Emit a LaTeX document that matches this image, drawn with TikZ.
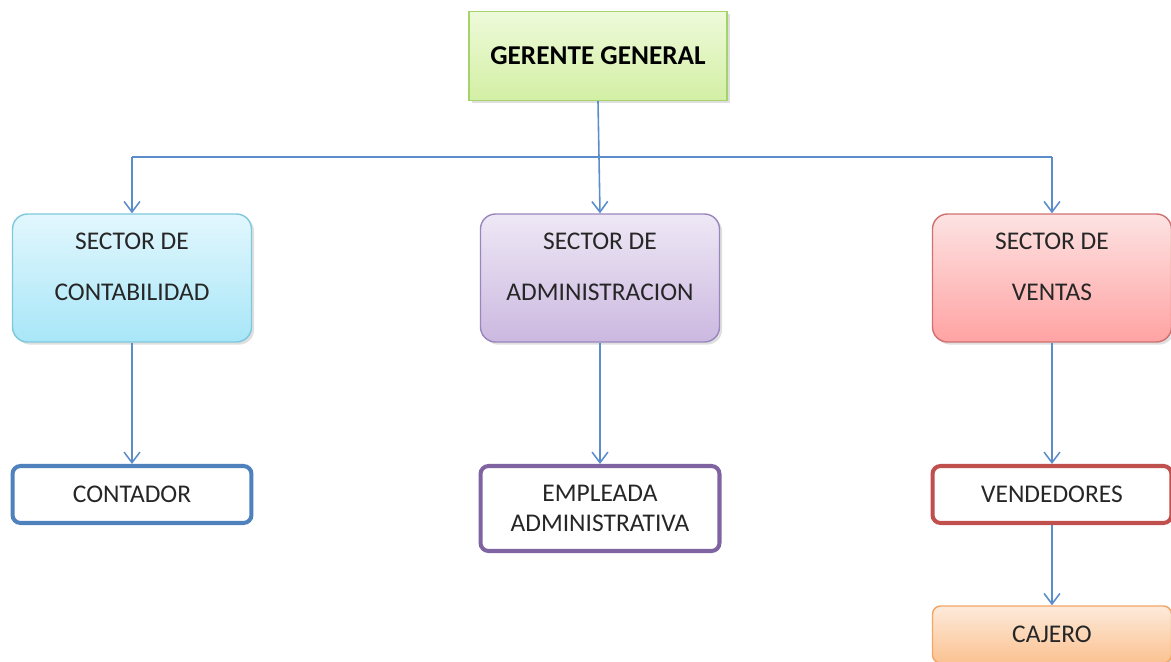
\documentclass[tikz,border=0pt]{standalone}
\usepackage{fontspec}
\setmainfont{Carlito}
\usetikzlibrary{arrows.meta,shadows}

\definecolor{linea}{HTML}{5B8DCB}
\definecolor{texto}{HTML}{262626}
\definecolor{verdeA}{HTML}{EEFADA}\definecolor{verdeB}{HTML}{D3EFA4}\definecolor{verdeC}{HTML}{A3D36A}
\definecolor{celesteA}{HTML}{E2F7FD}\definecolor{celesteB}{HTML}{A8E6F8}\definecolor{celesteC}{HTML}{7EC8DC}
\definecolor{lilaA}{HTML}{EEE8F5}\definecolor{lilaB}{HTML}{CBB8E0}\definecolor{lilaC}{HTML}{9A86BF}
\definecolor{rosaA}{HTML}{FDE3E3}\definecolor{rosaB}{HTML}{FFA3A3}\definecolor{rosaC}{HTML}{D07070}
\definecolor{naranjaA}{HTML}{FDEADB}\definecolor{naranjaB}{HTML}{FBC290}\definecolor{naranjaC}{HTML}{F2A566}
\definecolor{azul}{HTML}{4F81BD}\definecolor{morado}{HTML}{8064A2}\definecolor{rojo}{HTML}{C0504D}

\begin{document}
\begin{tikzpicture}[x=0.02cm,y=-0.02cm,
  font=\fontsize{14.5}{17}\selectfont, text=texto,
  sombra/.style={drop shadow={opacity=0.25,shadow xshift=1.5pt,shadow yshift=-1.5pt}},
  sector/.style={draw,line width=0.8pt,rounded corners=0.3cm,minimum width=4.78cm,
    minimum height=2.56cm,align=center,inner ysep=0.16cm,text height=1.58cm,text depth=0.66cm,sombra},
  puesto/.style={draw,fill=white,line width=2.3pt,rounded corners=0.16cm,
    minimum width=4.78cm,minimum height=1.14cm,align=center},
  link/.style={draw=linea,line width=0.9pt},
  flecha/.style={link,-{Straight Barb[length=6pt,width=9pt]}}]
\useasboundingbox (0,0) rectangle (1171,662);

% direccion
\node[draw=verdeC,line width=0.8pt,top color=verdeA,bottom color=verdeB,
  minimum width=5.16cm,minimum height=1.78cm,
  font=\fontsize{15.5}{18}\selectfont\bfseries,text=black,sombra] (gg) at (598,56) {GERENTE GENERAL};

% sectores
\node[sector,draw=celesteC,top color=celesteA,bottom color=celesteB]
  (cont) at (132,278) {SECTOR DE\\[12.5pt]CONTABILIDAD};
\node[sector,draw=lilaC,top color=lilaA,bottom color=lilaB]
  (admin) at (600,278) {SECTOR DE\\[12.5pt]ADMINISTRACION};
\node[sector,draw=rosaC,top color=rosaA,bottom color=rosaB]
  (ventas) at (1052,278) {SECTOR DE\\[12.5pt]VENTAS};

% puestos
\node[puesto,draw=azul] (contador) at (132,494.5) {CONTADOR};
\node[puesto,draw=morado,minimum height=1.7cm] (empleada) at (600,508.5)
  {EMPLEADA\\ADMINISTRATIVA};
\node[puesto,draw=rojo] (vend) at (1052,494.5) {VENDEDORES};
\node[draw=naranjaC,line width=0.8pt,rounded corners=0.16cm,top color=naranjaA,
  bottom color=naranjaB,minimum width=4.78cm,minimum height=1.14cm,sombra]
  (cajero) at (1052,634.5) {CAJERO};

% conexiones
\coordinate (bus) at (598,157);
\draw[link] (cont.north |- bus) -- (ventas.north |- bus);
\draw[flecha] (gg.south) -- (admin.north);
\draw[flecha] (cont.north |- bus) -- (cont.north);
\draw[flecha] (ventas.north |- bus) -- (ventas.north);
\draw[flecha] (cont) -- (contador);
\draw[flecha] (admin) -- (empleada);
\draw[flecha] (ventas) -- (vend);
\draw[flecha] (vend) -- (cajero);
\end{tikzpicture}
\end{document}
